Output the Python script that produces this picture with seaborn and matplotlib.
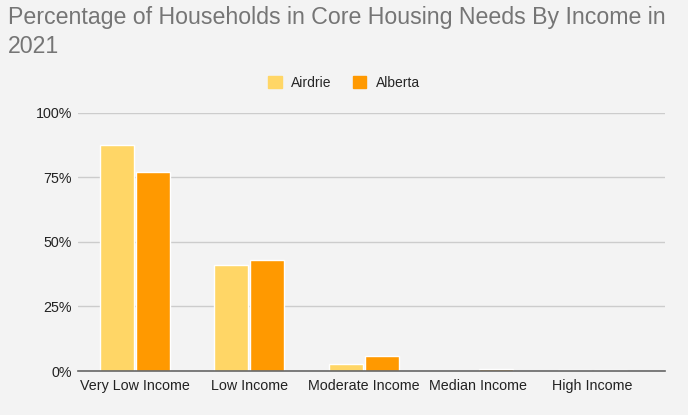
import matplotlib
matplotlib.use("Agg")
import matplotlib.pyplot as plt
import seaborn as sns
import pandas as pd
from matplotlib.ticker import PercentFormatter

categories = ["Very Low Income", "Low Income", "Moderate Income", "Median Income", "High Income"]
airdrie = [0.876, 0.411, 0.026, 0.001, 0.002]
alberta = [0.771, 0.430, 0.058, 0.007, 0.002]
series = ["Airdrie", "Alberta"]
colors = ["#ffd666", "#ff9900"]

df = pd.DataFrame({
    "cat": categories * 2,
    "val": airdrie + alberta,
    "series": [series[0]] * len(categories) + [series[1]] * len(categories),
})

sns.set_style("white")
plt.rcParams["font.family"] = ["Liberation Sans", "DejaVu Sans"]

fig = plt.figure(figsize=(6.88, 4.15), dpi=100, facecolor="#f3f3f3")
ax = fig.add_axes([0.113, 0.106, 0.853, 0.622])
ax.set_facecolor("#f3f3f3")

sns.barplot(data=df, x="cat", y="val", hue="series", palette=colors, ax=ax,
            width=0.63, gap=0.06, legend=False, saturation=1)

ax.set_ylim(0, 1.0)
ax.set_yticks([0, 0.25, 0.5, 0.75, 1.0])
ax.yaxis.set_major_formatter(PercentFormatter(1.0, decimals=0))
ax.grid(axis="y", color="#cccccc", linewidth=1)
ax.set_axisbelow(True)
for s in ["top", "right", "left"]:
    ax.spines[s].set_visible(False)
ax.spines["bottom"].set_color("#666666")
ax.spines["bottom"].set_linewidth(1.2)
ax.tick_params(axis="x", length=0, labelsize=10.3, colors="#222222", pad=6)
ax.tick_params(axis="y", length=0, labelsize=10.3, colors="#222222", pad=4)
ax.set_xlabel("")
ax.set_ylabel("")
ax.set_xlim(-0.5, 4.63)

fig.text(0.012, 0.985, "Percentage of Households in Core Housing Needs By Income in\n2021",
         ha="left", va="top", fontsize=16.7, color="#757575", linespacing=1.32)

handles = [plt.Rectangle((0, 0), 1, 1, color=c) for c in colors]
fig.legend(handles, series, loc="center", bbox_to_anchor=(0.5, 0.8), ncol=2,
           frameon=False, fontsize=10, handlelength=1.0, handleheight=1.0,
           columnspacing=1.5, handletextpad=0.7)

fig.savefig("out.png", dpi=100, facecolor=fig.get_facecolor())
